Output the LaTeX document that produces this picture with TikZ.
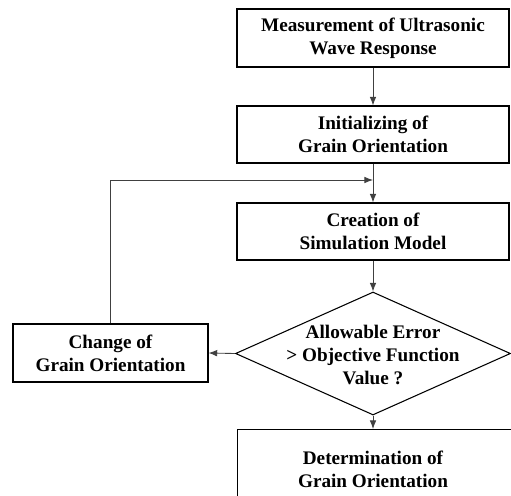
\documentclass[tikz,border=0pt]{standalone}
\usepackage{fontspec}
\setmainfont{Liberation Serif}
\usetikzlibrary{arrows.meta,shapes.geometric}
\begin{document}
\begin{tikzpicture}[x=0.75pt,y=-0.75pt,
  box/.style={draw,line width=0.8pt,rectangle,inner sep=0pt,align=center,
    font=\fontsize{14.4}{17.3}\selectfont\bfseries},
  txt/.style={inner sep=0pt,align=center,font=\fontsize{14.4}{17.3}\selectfont\bfseries},
  arr/.style={draw=black!75,line width=0.65pt,-{Latex[length=6.5pt,width=5pt]}}]
\useasboundingbox (0,0) rectangle (511,496);
\node[box,minimum width=272*0.75pt,minimum height=58*0.75pt] (m1) at (373,38) {Measurement of Ultrasonic\\Wave Response};
\node[box,minimum width=272*0.75pt,minimum height=57*0.75pt] (m2) at (373,134.5) {Initializing of\\Grain Orientation};
\node[box,minimum width=272*0.75pt,minimum height=57*0.75pt] (m3) at (373,231.5) {Creation of\\Simulation Model};
\node[draw,line width=0.8pt,diamond,inner sep=0pt,minimum width=275*0.75pt,minimum height=123*0.75pt] (d) at (373,353.5) {};
\node[txt] (dt) at (373,355) {Allowable Error\\> Objective Function\\Value ?};
\node[box,minimum width=195*0.75pt,minimum height=58*0.75pt] (c) at (110.5,353) {Change of\\Grain Orientation};
\node[box,minimum width=280*0.75pt,minimum height=84*0.75pt,anchor=north west] (m4) at (237,429) {};
\node[txt] (m4t) at (373,469) {Determination of\\Grain Orientation};
\coordinate (j) at (373,180);
\draw[arr] (m1) -- (m2);
\draw[arr] (m2) -- (m3);
\draw[arr] (m3) -- (d.north);
\draw[arr] (d.west) -- (c.east);
\draw[arr] (d.south) -- (m4.north -| d.south);
\draw[arr] (c.north) |- (j);
\end{tikzpicture}
\end{document}
